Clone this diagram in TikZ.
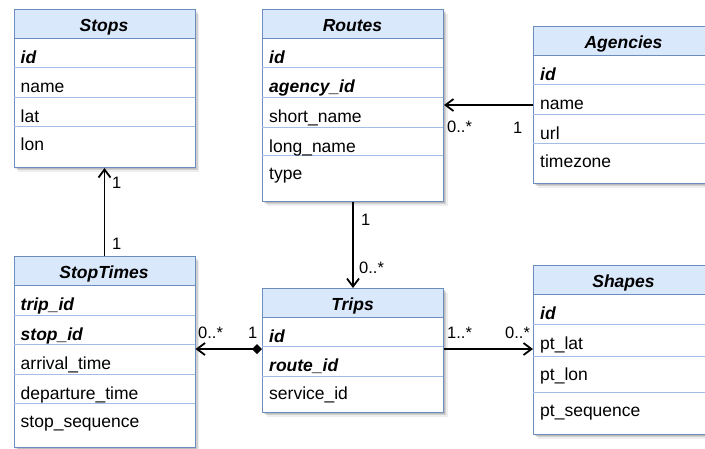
\documentclass[tikz,border=0pt]{standalone}
\usepackage{fontspec}
\setmainfont{Liberation Sans}
\usetikzlibrary{arrows.meta}
\definecolor{hdr}{HTML}{DAE8FC}
\definecolor{bord}{HTML}{6C8EBF}
\definecolor{sepc}{HTML}{A3BDE6}

% table frame: #1 name, #2 left, #3 top, #4 header bottom, #5 bottom, #6 title
\newcommand\ertab[6]{%
  \foreach \o/\a in {1.5/0.10,3/0.12,4.5/0.07}{%
    \fill[black,opacity=\a] ({#2+\o},{#3+\o}) rectangle ({#2+181+\o},{#5+\o});}
  \fill[white] (#2,#3) rectangle ({#2+181},#5);
  \fill[hdr] (#2,#3) rectangle ({#2+181},#4);
  \draw[bord,line width=1pt] (#2,#4) -- ({#2+181},#4);
  \node[anchor=base,inner sep=0pt,font=\fontsize{17.5}{21}\bfseries\itshape] (#1-title) at ({#2+90.5},{#3+22}) {#6};
  \node[draw=bord,line width=1pt,inner sep=0pt,minimum width=181pt,
        minimum height={#5-#3},anchor=north west] (#1) at (#2,#3) {};
}
% field row: #1 name, #2 left, #3 row top, #4 text, #5 baseline offset
\newcommand\erow[5]{%
  \node[anchor=base west,inner sep=0pt] (#1) at ({#2+7},{#3+#5}) {#4};
}
% separators between field rows: #1 left, #2 list of y values
\newcommand\eseps[2]{%
  \foreach \yy in {#2}{\draw[sepc,line width=0.9pt] (#1,\yy) -- ({#1+181},\yy);}
}
\newcommand\key[1]{\textbf{\textit{#1}}}

\tikzset{
  conn/.style={draw=black,line width=1.8pt,-{Straight Barb[length=8pt,width=12pt,line width=1.8pt]}},
  diam/.style={{Diamond[length=10pt,width=10pt,fill=black,line width=0pt]}-{Straight Barb[length=8pt,width=12pt,line width=1.8pt]}},
  lbl/.style={anchor=west,inner sep=0pt,font=\fontsize{16.5}{20}\selectfont}
}

\begin{document}
\begin{tikzpicture}[x=1pt,y=-1pt,font=\fontsize{17.5}{21}\selectfont]
\useasboundingbox (0,0) rectangle (705,448);
\clip (0,0) rectangle (705,448);

% Stops
\ertab{stops}{13.5}{9}{38}{167}{Stops}
\eseps{13.5}{67,97,126}
\erow{stops-id}{13.5}{38}{\key{id}}{25}
\erow{stops-name}{13.5}{67}{name}{25}
\erow{stops-lat}{13.5}{97}{lat}{25}
\erow{stops-lon}{13.5}{126}{lon}{24}

% Routes
\ertab{routes}{262}{9}{38}{201}{Routes}
\eseps{262}{67,97,127,155}
\erow{routes-id}{262}{38}{\key{id}}{25}
\erow{routes-agency}{262}{67}{\key{agency\_id}}{25}
\erow{routes-short}{262}{97}{short\_name}{25}
\erow{routes-long}{262}{127}{long\_name}{25}
\erow{routes-type}{262}{155}{type}{24}

% Agencies
\ertab{agencies}{533}{26}{55}{183}{Agencies}
\eseps{533}{84,114,143}
\erow{agencies-id}{533}{55}{\key{id}}{25}
\erow{agencies-name}{533}{84}{name}{25}
\erow{agencies-url}{533}{114}{url}{25}
\erow{agencies-tz}{533}{143}{timezone}{24}

% StopTimes
\ertab{stoptimes}{13.5}{256}{285}{447}{StopTimes}
\eseps{13.5}{315,344,374,403}
\erow{st-trip}{13.5}{285}{\key{trip\_id}}{25}
\erow{st-stop}{13.5}{315}{\key{stop\_id}}{25}
\erow{st-arr}{13.5}{344}{arrival\_time}{25}
\erow{st-dep}{13.5}{374}{departure\_time}{25}
\erow{st-seq}{13.5}{403}{stop\_sequence}{24}

% Trips
\ertab{trips}{262}{288}{317}{412}{Trips}
\eseps{262}{346,376}
\erow{trips-id}{262}{317}{\key{id}}{25}
\erow{trips-route}{262}{346}{\key{route\_id}}{25}
\erow{trips-service}{262}{376}{service\_id}{23}

% Shapes
\ertab{shapes}{533}{265}{294}{434}{Shapes}
\eseps{533}{324,356,392}
\erow{shapes-id}{533}{294}{\key{id}}{25}
\erow{shapes-lat}{533}{324}{pt\_lat}{25}
\erow{shapes-lon}{533}{356}{pt\_lon}{24}
\erow{shapes-seq}{533}{392}{pt\_sequence}{24}

% relationships
\draw[conn] (stoptimes.north) -- (stops.south);
\node[lbl] (m-st-a) at (112,183) {1};
\node[lbl] (m-st-b) at (112,244) {1};

\draw[conn] (routes.south) -- (trips.north);
\node[lbl] (m-rt-a) at (361,220) {1};
\node[lbl] (m-rt-b) at (359,268) {0..*};

\draw[conn] (agencies.west |- 0,105) -- (routes.east |- 0,105);
\node[lbl] (m-ag-a) at (447,127) {0..*};
\node[lbl] (m-ag-b) at (513,128) {1};

\draw[conn,diam] (trips.west |- 0,349) -- (stoptimes.east |- 0,349);
\node[lbl] (m-ts-a) at (198,333) {0..*};
\node[lbl] (m-ts-b) at (248,333) {1};

\draw[conn] (trips.east |- 0,349) -- (shapes.west |- 0,349);
\node[lbl] (m-sh-a) at (447,333) {1..*};
\node[lbl] (m-sh-b) at (505,333) {0..*};
\end{tikzpicture}
\end{document}
